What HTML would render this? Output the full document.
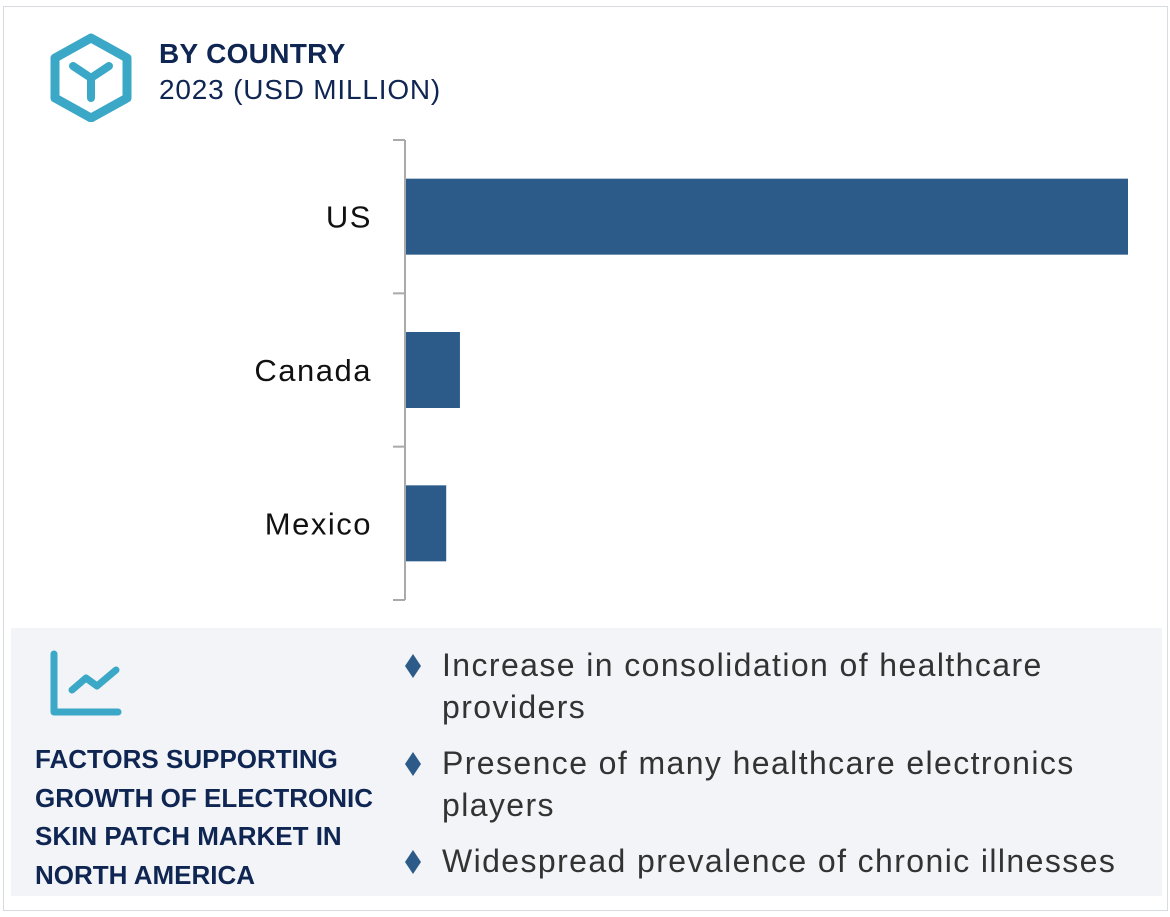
<!DOCTYPE html>
<html><head><meta charset="utf-8"><style>
body{margin:0;width:1170px;height:917px;background:#fff;font-family:"Liberation Sans",Arial,sans-serif;position:relative;overflow:hidden}
.abs{position:absolute}
.dm{position:absolute;left:5px;top:10px}
</style></head><body>
<div class="abs" style="left:3px;top:6px;width:1163px;height:903px;border:1px solid #d8dbe2"></div>
<svg class="abs" style="left:48px;top:32px" width="86" height="90" viewBox="0 0 86 90">
<polygon points="43,6 79,26 79,66 43,86 7,66 7,26" fill="none" stroke="#3aa8c6" stroke-width="9" stroke-linejoin="round"/>
<path d="M25,34 L43,46 L61,34 M43,46 L43,66" fill="none" stroke="#3aa8c6" stroke-width="8" stroke-linecap="round"/>
</svg>
<div class="abs" style="left:159px;top:38px;font-size:28px;font-weight:bold;color:#0f2552;letter-spacing:0.3px">BY COUNTRY</div>
<div class="abs" style="left:159px;top:74px;font-size:28px;color:#0f2552;letter-spacing:0.8px">2023 (USD MILLION)</div>
<svg class="abs" id="chart" style="left:0;top:0" width="1170" height="620"></svg>
<div class="abs" style="left:11px;top:628px;width:1151px;height:268px;background:#f2f4f8"></div>
<svg class="abs" style="left:48px;top:648px" width="76" height="72">
<path d="M6,6 L6,64 L70,64" fill="none" stroke="#3aa8c6" stroke-width="7" stroke-linecap="round" stroke-linejoin="round"/>
<path d="M24,42 L38,30 L49,38 L68,22" fill="none" stroke="#3aa8c6" stroke-width="7" stroke-linecap="round" stroke-linejoin="round"/>
</svg>
<div class="abs" style="left:35px;top:740px;font-size:26px;line-height:38.5px;font-weight:bold;color:#0f2552">FACTORS SUPPORTING<br>GROWTH OF ELECTRONIC<br>SKIN PATCH MARKET IN<br>NORTH AMERICA</div>
<div class="abs" style="left:400px;top:644px;font-size:32px;line-height:42px;color:#333;letter-spacing:1.4px">
<div style="position:relative;padding-left:42px;margin-bottom:14px"><svg class="dm" width="16" height="24"><polygon points="8,0 16,12 8,24 0,12" fill="#2c5b8a"/></svg>Increase in consolidation of healthcare<br>providers</div>
<div style="position:relative;padding-left:42px;margin-bottom:14px"><svg class="dm" width="16" height="24"><polygon points="8,0 16,12 8,24 0,12" fill="#2c5b8a"/></svg>Presence of many healthcare electronics<br>players</div>
<div style="position:relative;padding-left:42px"><svg class="dm" width="16" height="24"><polygon points="8,0 16,12 8,24 0,12" fill="#2c5b8a"/></svg>Widespread prevalence of chronic illnesses</div>
</div>
<script>
const categories=["US","Canada","Mexico"];
const values=[1000,76,57];
const maxValue=1000;
const svg=document.getElementById('chart');
const NS='http://www.w3.org/2000/svg';
const x0=405,x1=1128,yTop=140,yBot=600;
const band=(yBot-yTop)/categories.length;
const xs=v=>x0+(v/maxValue)*(x1-x0);
function mk(t,a){const e=document.createElementNS(NS,t);for(const k in a)e.setAttribute(k,a[k]);svg.appendChild(e);return e;}
categories.forEach((c,i)=>{
  const yc=yTop+band*(i+0.5);
  const r=mk('rect',{x:x0,y:yc-38,width:xs(values[i])-x0,height:76,fill:'#2c5b8a'});
  
  
  const t=mk('text',{x:372,y:yc+11,'text-anchor':'end','font-size':31,fill:'#111','letter-spacing':1.5,'font-family':'Liberation Sans, sans-serif'});
  t.textContent=c;
  
  
});
const ax=mk('line',{x1:x0,y1:yTop,x2:x0,y2:yBot,stroke:'#aaa','stroke-width':2});


for(let i=0;i<=categories.length;i++){
  const y=yTop+band*i;
  const tk=mk('line',{x1:393,y1:y,x2:x0,y2:y,stroke:'#aaa','stroke-width':2});
  
  
}
</script>
</body></html>
